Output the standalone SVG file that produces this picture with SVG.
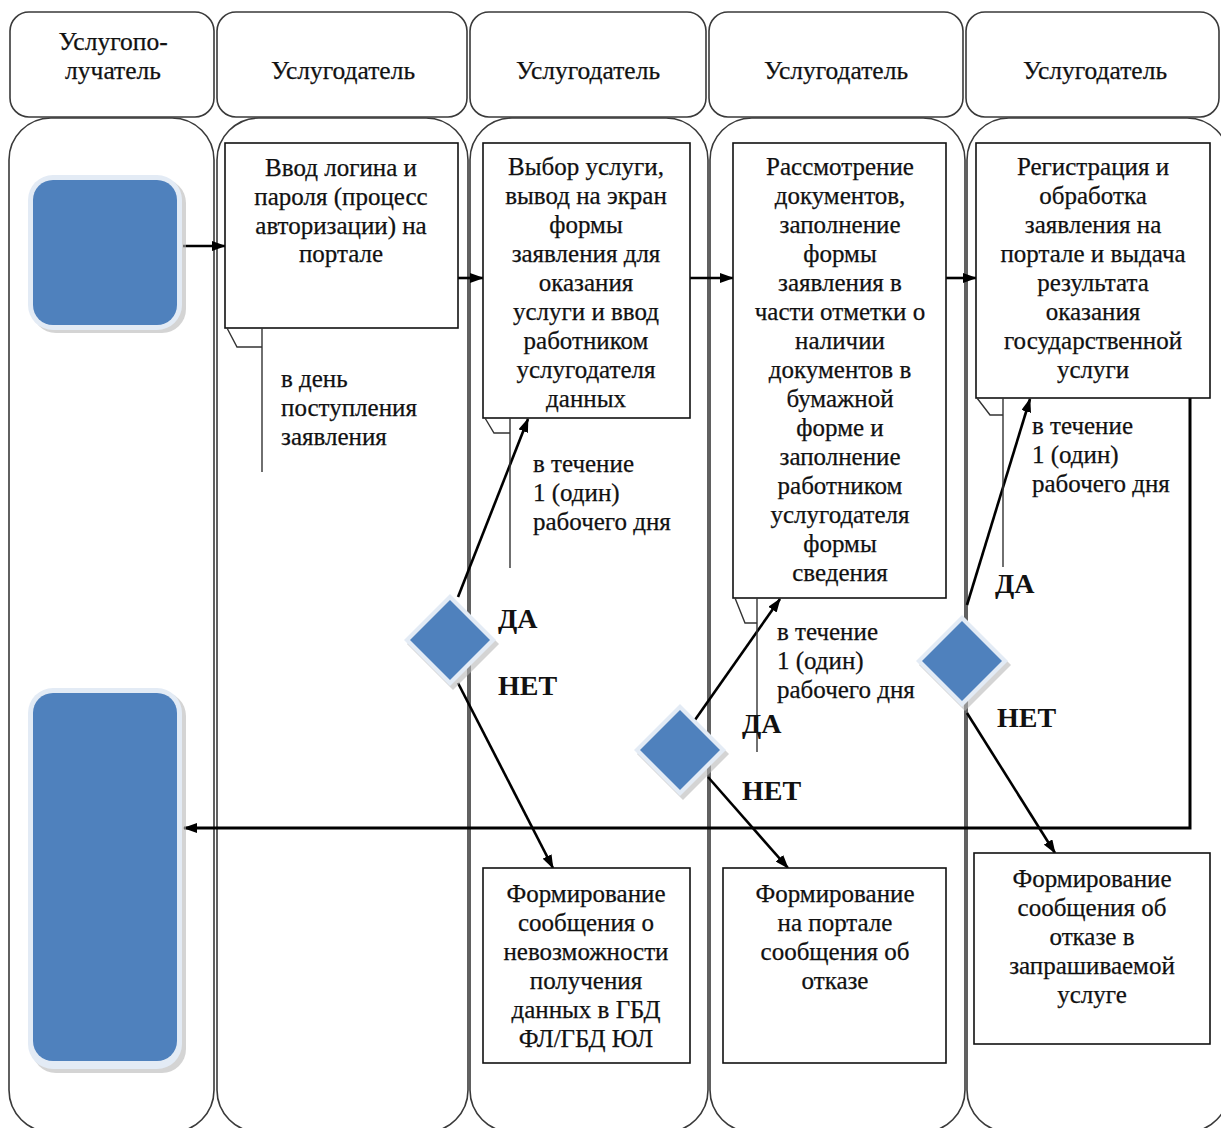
<svg xmlns="http://www.w3.org/2000/svg" width="1221" height="1128" viewBox="0 0 1221 1128">
<defs>
<style>
.lane{fill:none;stroke:#3a3a3a;stroke-width:1.6}
.box{fill:#fff;stroke:#111;stroke-width:1.6}
.t{font-family:'Liberation Serif','DejaVu Serif',serif;font-size:25px;fill:#111;stroke:#111;stroke-width:0.25}
.h{font-size:25.5px}
.c{text-anchor:middle}
.b{font-family:'Liberation Serif','DejaVu Serif',serif;font-size:28px;font-weight:bold;fill:#111}
.ar{fill:none;stroke:#000;stroke-width:2.6;marker-end:url(#ah)}
.co{fill:none;stroke:#333;stroke-width:1.4}
.blue{fill:#4f81bd}
.rim{fill:#e3ebf5}
.sh{fill:#b8b8b8;opacity:.6}
</style>
<marker id="ah" viewBox="0 0 14 10" refX="13" refY="5" markerWidth="14" markerHeight="10" markerUnits="userSpaceOnUse" orient="auto">
<path d="M0,0 L14,5 L0,10 z" fill="#000"/>
</marker>
</defs>
<rect x="0" y="0" width="1221" height="1128" fill="#fff"/>

<g id="lanes">
<rect class="lane" x="10" y="12" width="204" height="105" rx="19"/>
<rect class="lane" x="217" y="12" width="250" height="105" rx="19"/>
<rect class="lane" x="470" y="12" width="236" height="105" rx="19"/>
<rect class="lane" x="709" y="12" width="254" height="105" rx="19"/>
<rect class="lane" x="966" y="12" width="253" height="105" rx="19"/>
<rect class="lane" x="9" y="118" width="205" height="1014" rx="42"/>
<rect class="lane" x="217" y="118" width="251" height="1014" rx="42"/>
<rect class="lane" x="470" y="118" width="238" height="1014" rx="42"/>
<rect class="lane" x="710" y="118" width="255" height="1014" rx="42"/>
<rect class="lane" x="967" y="118" width="262" height="1014" rx="42"/>
<text class="t h c" x="113" y="50">Услугопо-</text>
<text class="t h c" x="113" y="79">лучатель</text>
<text class="t h c" x="343" y="79">Услугодатель</text>
<text class="t h c" x="588" y="79">Услугодатель</text>
<text class="t h c" x="836" y="79">Услугодатель</text>
<text class="t h c" x="1095" y="79">Услугодатель</text>
</g>

<g id="connectors">
<line class="ar" x1="183" y1="246" x2="225" y2="246"/>
<line class="ar" x1="458" y1="278" x2="483" y2="278"/>
<line class="ar" x1="690" y1="278" x2="733" y2="278"/>
<line class="ar" x1="946" y1="278" x2="976" y2="278"/>
<path d="M1190 398 V828 H184" fill="none" stroke="#000" stroke-width="3" marker-end="url(#ah)"/>
<line class="ar" x1="458" y1="597" x2="528" y2="419"/>
<line class="ar" x1="458" y1="683" x2="553" y2="868"/>
<line class="ar" x1="690" y1="727" x2="780" y2="599"/>
<line class="ar" x1="708" y1="777" x2="788" y2="868"/>
<line class="ar" x1="967" y1="605" x2="1030" y2="399"/>
<line class="ar" x1="967" y1="713" x2="1055" y2="853"/>
</g>

<g id="start">
<rect class="sh" x="32" y="179" width="154" height="154" rx="24"/>
<rect class="rim" x="28" y="175" width="154" height="155" rx="25"/>
<rect class="blue" x="33" y="180" width="144" height="145" rx="20"/>
</g>

<g id="end">
<rect class="sh" x="32" y="692" width="154" height="381" rx="24"/>
<rect class="rim" x="28" y="688" width="154" height="381" rx="25"/>
<rect class="blue" x="33" y="693" width="144" height="368" rx="20"/>
</g>

<g id="box1">
<rect class="box" x="225" y="143" width="233" height="185"/>
<text class="t c" x="341" y="176">Ввод логина и</text>
<text class="t c" x="341" y="205">пароля (процесс</text>
<text class="t c" x="341" y="234">авторизации) на</text>
<text class="t c" x="341" y="262">портале</text>
</g>

<g id="callout1">
<polyline class="co" points="227,328 237,347 262,347"/>
<line class="co" x1="262" y1="328" x2="262" y2="472"/>
<text class="t" x="281" y="387">в день</text>
<text class="t" x="281" y="416">поступления</text>
<text class="t" x="281" y="445">заявления</text>
</g>

<g id="box2">
<rect class="box" x="483" y="143" width="207" height="275"/>
<text class="t c" x="586" y="175">Выбор услуги,</text>
<text class="t c" x="586" y="204">вывод на экран</text>
<text class="t c" x="586" y="233">формы</text>
<text class="t c" x="586" y="262">заявления для</text>
<text class="t c" x="586" y="291">оказания</text>
<text class="t c" x="586" y="320">услуги и ввод</text>
<text class="t c" x="586" y="349">работником</text>
<text class="t c" x="586" y="378">услугодателя</text>
<text class="t c" x="586" y="407">данных</text>
</g>

<g id="callout2">
<polyline class="co" points="485,418 494,433 510,433"/>
<line class="co" x1="510" y1="418" x2="510" y2="568"/>
<text class="t" x="533" y="472">в течение</text>
<text class="t" x="533" y="501">1 (один)</text>
<text class="t" x="533" y="530">рабочего дня</text>
</g>

<g id="box3">
<rect class="box" x="733" y="143" width="213" height="455"/>
<text class="t c" x="840" y="175">Рассмотрение</text>
<text class="t c" x="840" y="204">документов,</text>
<text class="t c" x="840" y="233">заполнение</text>
<text class="t c" x="840" y="262">формы</text>
<text class="t c" x="840" y="291">заявления в</text>
<text class="t c" x="840" y="320">части отметки о</text>
<text class="t c" x="840" y="349">наличии</text>
<text class="t c" x="840" y="378">документов в</text>
<text class="t c" x="840" y="407">бумажной</text>
<text class="t c" x="840" y="436">форме и</text>
<text class="t c" x="840" y="465">заполнение</text>
<text class="t c" x="840" y="494">работником</text>
<text class="t c" x="840" y="523">услугодателя</text>
<text class="t c" x="840" y="552">формы</text>
<text class="t c" x="840" y="581">сведения</text>
</g>

<g id="callout3">
<polyline class="co" points="735,598 745,623 757,623"/>
<line class="co" x1="757" y1="598" x2="757" y2="752"/>
<text class="t" x="777" y="640">в течение</text>
<text class="t" x="777" y="669">1 (один)</text>
<text class="t" x="777" y="698">рабочего дня</text>
</g>

<g id="box4">
<rect class="box" x="976" y="143" width="234" height="255"/>
<text class="t c" x="1093" y="175">Регистрация и</text>
<text class="t c" x="1093" y="204">обработка</text>
<text class="t c" x="1093" y="233">заявления на</text>
<text class="t c" x="1093" y="262">портале и выдача</text>
<text class="t c" x="1093" y="291">результата</text>
<text class="t c" x="1093" y="320">оказания</text>
<text class="t c" x="1093" y="349">государственной</text>
<text class="t c" x="1093" y="378">услуги</text>
</g>

<g id="callout4">
<polyline class="co" points="977,398 990,415 1003,415"/>
<line class="co" x1="1003" y1="398" x2="1003" y2="567"/>
<text class="t" x="1032" y="434">в течение</text>
<text class="t" x="1032" y="463">1 (один)</text>
<text class="t" x="1032" y="492">рабочего дня</text>
</g>

<g id="decision1">
<polygon class="sh" points="453,598 499,644 453,690 407,644"/>
<polygon class="rim" points="450,594 496,640 450,686 404,640"/>
<polygon class="blue" points="450,600 490,640 450,680 410,640"/>
<text class="b" x="498" y="628">ДА</text>
<text class="b" x="498" y="695">НЕТ</text>
</g>

<g id="decision2">
<polygon class="sh" points="683,708 729,754 683,800 637,754"/>
<polygon class="rim" points="680,704 726,750 680,796 634,750"/>
<polygon class="blue" points="680,710 720,750 680,790 640,750"/>
<text class="b" x="742" y="733">ДА</text>
<text class="b" x="742" y="800">НЕТ</text>
</g>

<g id="decision3">
<polygon class="sh" points="965,619 1011,665 965,711 919,665"/>
<polygon class="rim" points="962,615 1008,661 962,707 916,661"/>
<polygon class="blue" points="962,621 1002,661 962,701 922,661"/>
<text class="b" x="995" y="593">ДА</text>
<text class="b" x="997" y="727">НЕТ</text>
</g>

<g id="box5">
<rect class="box" x="483" y="868" width="207" height="195"/>
<text class="t c" x="586" y="902">Формирование</text>
<text class="t c" x="586" y="931">сообщения о</text>
<text class="t c" x="586" y="960">невозможности</text>
<text class="t c" x="586" y="989">получения</text>
<text class="t c" x="586" y="1018">данных в ГБД</text>
<text class="t c" x="586" y="1047">ФЛ/ГБД ЮЛ</text>
</g>

<g id="box6">
<rect class="box" x="723" y="868" width="223" height="195"/>
<text class="t c" x="835" y="902">Формирование</text>
<text class="t c" x="835" y="931">на портале</text>
<text class="t c" x="835" y="960">сообщения об</text>
<text class="t c" x="835" y="989">отказе</text>
</g>

<g id="box7">
<rect class="box" x="974" y="853" width="236" height="191"/>
<text class="t c" x="1092" y="887">Формирование</text>
<text class="t c" x="1092" y="916">сообщения об</text>
<text class="t c" x="1092" y="945">отказе в</text>
<text class="t c" x="1092" y="974">запрашиваемой</text>
<text class="t c" x="1092" y="1003">услуге</text>
</g>
</svg>
